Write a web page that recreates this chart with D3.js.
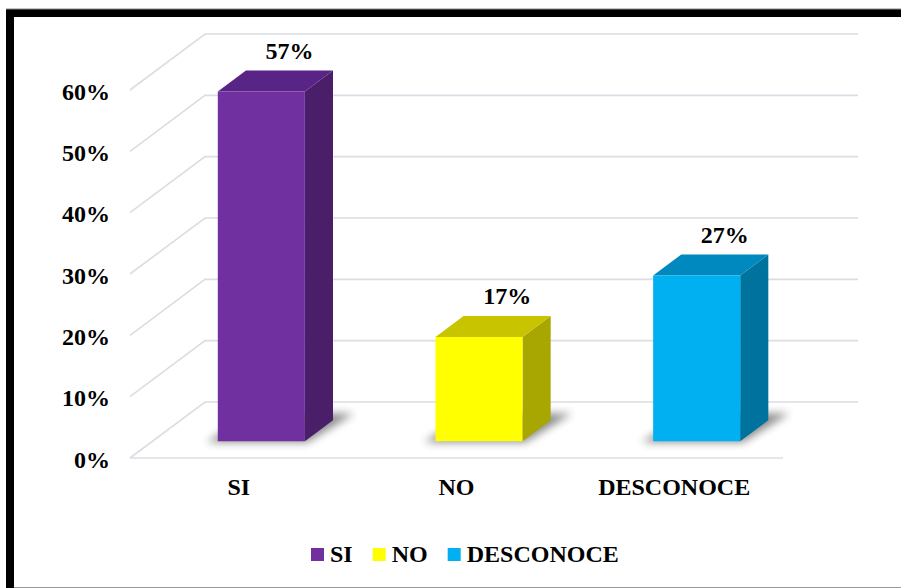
<!DOCTYPE html>
<html>
<head>
<meta charset="utf-8">
<script src="https://cdn.jsdelivr.net/npm/d3@7"></script>
<style>
  body { margin: 0; background: #fff; }
  svg text { font-family: "Liberation Serif", "Times New Roman", serif; font-weight: bold; fill: #000; }
</style>
</head>
<body>
<div id="chart"></div>
<script>
// data
const categories = ['SI', 'NO', 'DESCONOCE'];
const values = [0.57, 0.17, 0.27];
const tickValues = [0, 0.1, 0.2, 0.3, 0.4, 0.5, 0.6];
const frontColors = ['#7030A0', '#FFFF00', '#00B0F0'];
const topColors = ['#582586', '#C8C400', '#0089BE'];
const sideColors = ['#4A1E68', '#A8A600', '#00729E'];

const W = 901, H = 588;
const fontSize = '24px';

const svg = d3.select('#chart')
  .append('svg')
  .attr('width', W)
  .attr('height', H);

// frame
svg.append('rect').attr('x', 6).attr('y', 9).attr('width', W - 6).attr('height', 8).attr('fill', '#000');
svg.append('rect').attr('x', 6).attr('y', 9).attr('width', 8).attr('height', H - 9).attr('fill', '#000');
svg.append('line').attr('x1', 6).attr('x2', W).attr('y1', 9).attr('y2', 9).attr('stroke', '#888').attr('stroke-width', 1);
svg.append('line').attr('x1', 14).attr('x2', W).attr('y1', 587.5).attr('y2', 587.5).attr('stroke', '#999').attr('stroke-width', 1);

// perspective settings
const depthX = 75, depthY = -56;
const barFront = 0.3, barBack = 0.675;

const x = d3.scaleBand()
  .domain(categories)
  .range([130, 783])
  .paddingInner(0.6)
  .paddingOuter(0.3);

const yFront = d3.scaleLinear()
  .domain([0, 0.6])
  .range([458, 90]);

// project a point: front-plane x, value, depth fraction
function pt(px, v, f) {
  return [px + f * depthX, yFront(v) + f * depthY];
}

const defs = svg.append('defs');
defs.append('filter')
  .attr('id', 'shadow')
  .attr('x', '-50%').attr('y', '-50%').attr('width', '200%').attr('height', '200%')
  .append('feGaussianBlur')
  .attr('stdDeviation', 4);

const chart = svg.append('g');

// gridlines
const grid = chart.append('g').attr('class', 'grid');
tickValues.forEach(v => {
  const a = pt(130, v, 0), b = pt(130, v, 1), c = [858, b[1]];
  grid.append('path')
    .attr('fill', 'none')
    .attr('stroke', '#DCDDE4')
    .attr('stroke-width', 1.6)
    .attr('d', d3.line()([a, b, c]));
});
grid.append('line')
  .attr('x1', 130).attr('x2', 783)
  .attr('y1', yFront(0)).attr('y2', yFront(0))
  .attr('stroke', '#DCDDE4')
  .attr('stroke-width', 1.6);

// y axis
const yAxis = chart.append('g')
  .attr('transform', 'translate(130,0)')
  .call(d3.axisLeft(yFront)
    .tickValues(tickValues)
    .tickSize(0)
    .tickPadding(20)
    .tickFormat(d3.format('.0%')));
yAxis.select('.domain').remove();
yAxis.selectAll('text')
  .attr('dy', '0.38em')
  .style('font-size', fontSize)
  .style('font-family', '"Liberation Serif", serif');

// x axis
const xAxis = chart.append('g')
  .attr('transform', `translate(0,${yFront(0)})`)
  .call(d3.axisBottom(x).tickSize(0).tickPadding(20));
xAxis.select('.domain').remove();
xAxis.selectAll('text')
  .style('font-size', fontSize)
  .style('font-family', '"Liberation Serif", serif');

// bars
const bars = chart.selectAll('.bar')
  .data(categories.map((c, i) => ({ cat: c, value: values[i], i: i })))
  .enter()
  .append('g')
  .attr('class', 'bar');

bars.each(function(d) {
  const g = d3.select(this);
  const x0 = x(d.cat), x1 = x(d.cat) + x.bandwidth();
  const line = d3.line();

  // soft shadow on the floor
  const s = [pt(x0 - 10, 0, barFront - 0.02), pt(x1 + 4, 0, barFront - 0.02),
             pt(x1 + 12, 0, barBack + 0.12), pt(x0 - 2, 0, barBack + 0.12)];
  g.append('path')
    .attr('d', line(s) + 'Z')
    .attr('fill', '#000')
    .attr('opacity', 0.45)
    .attr('filter', 'url(#shadow)');

  // side face
  const side = [pt(x1, 0, barFront), pt(x1, 0, barBack), pt(x1, d.value, barBack), pt(x1, d.value, barFront)];
  g.append('path').attr('d', line(side) + 'Z').attr('fill', sideColors[d.i]);

  // top face
  const top = [pt(x0, d.value, barFront), pt(x1, d.value, barFront), pt(x1, d.value, barBack), pt(x0, d.value, barBack)];
  g.append('path').attr('d', line(top) + 'Z').attr('fill', topColors[d.i]);

  // front face
  const front = [pt(x0, 0, barFront), pt(x1, 0, barFront), pt(x1, d.value, barFront), pt(x0, d.value, barFront)];
  g.append('path').attr('d', line(front) + 'Z').attr('fill', frontColors[d.i]);

  // value label
  const lp = pt((x0 + x1) / 2, d.value, barBack);
  g.append('text')
    .attr('x', lp[0])
    .attr('y', lp[1] - 12)
    .attr('text-anchor', 'middle')
    .style('font-size', fontSize)
    .text(d3.format('.0%')(d.value));
});

// legend
const legend = svg.append('g').attr('transform', 'translate(311,548)');
let lx = 0;
categories.forEach((c, i) => {
  const item = legend.append('g').attr('transform', `translate(${lx},0)`);
  item.append('rect').attr('width', 13).attr('height', 13).attr('fill', frontColors[i]);
  const t = item.append('text')
    .attr('x', 19)
    .attr('y', 14)
    .style('font-size', fontSize)
    .text(c);
  lx += 19 + t.node().getComputedTextLength() + 20;
});
</script>
</body>
</html>
